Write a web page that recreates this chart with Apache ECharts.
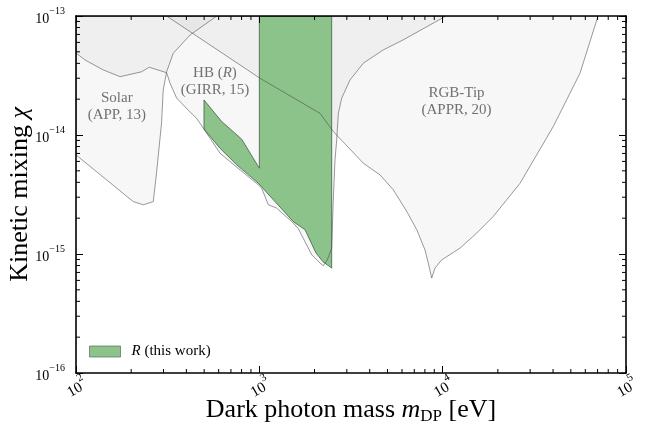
<!DOCTYPE html>
<html>
<head>
<meta charset="utf-8">
<script src="https://cdn.jsdelivr.net/npm/echarts@6/dist/echarts.min.js"></script>
<style>
  html, body { margin: 0; padding: 0; background: #fff; }
  #chart { width: 647px; height: 424px; }
</style>
</head>
<body>
<div id="chart"></div>
<script>
// ---- axis ranges and tick labels ----
const massRange = [1e2, 1e5];
const chiRange = [1e-16, 1e-13];
const massTickExponents = [2, 3, 4, 5];
const chiTickExponents = [-16, -15, -14, -13];
const minorMultipliers = [2, 3, 4, 5, 6, 7, 8, 9];

// ---- Solar (APP, 13): excluded above this boundary ----
const solarMass = [100, 205, 233, 264, 275, 293, 299, 312, 339, 419, 586, 100];
const solarChi  = [6.8e-15, 2.76e-15, 2.59e-15, 2.76e-15, 4.81e-15, 1.27e-14, 2.39e-14, 3.39e-14, 4.86e-14, 6.92e-14, 1e-13, 1e-13];

// ---- HB (R) (GIRR, 15) ----
const hbMass = [100, 100, 112, 141, 174, 228, 251, 312, 326, 354, 419, 455, 499, 610, 785, 987, 1030, 1119, 1243, 1532, 1632, 1931, 2143, 2234, 2349, 2481, 2532, 2587, 2643, 2697, 2814, 3123, 3691, 4746, 6077, 10430];
const hbChi  = [1e-13, 4.89e-14, 4.27e-14, 3.52e-14, 3.09e-14, 3.40e-14, 3.71e-14, 3.34e-14, 2.72e-14, 2.04e-14, 1.56e-14, 1.38e-14, 1.12e-14, 7.03e-15, 5.09e-15, 3.81e-15, 3.57e-15, 2.59e-15, 2.43e-15, 1.82e-15, 1.63e-15, 9.84e-16, 8.39e-16, 7.96e-16, 8.93e-16, 1.12e-15, 2.85e-15, 6.18e-15, 9.1e-15, 1.52e-14, 2.04e-14, 2.90e-14, 4.01e-14, 5.19e-14, 6.29e-14, 1e-13];

// ---- RGB-Tip (APPR, 20) ----
const rgbMass = [312, 1008, 2143, 2532, 3691, 4552, 5381, 6367, 7219, 8012, 8350, 8713, 9083, 9879, 12430, 15340, 18890, 26420, 40130, 56100, 70370];
const rgbChi  = [1e-13, 3.0e-14, 1.52e-14, 1.07e-14, 5.80e-15, 4.62e-15, 3.46e-15, 2.28e-15, 1.60e-15, 1.08e-15, 8.39e-16, 6.28e-16, 7.62e-16, 8.93e-16, 1.12e-15, 1.50e-15, 2.07e-15, 3.93e-15, 1.18e-14, 3.30e-14, 1e-13];

// ---- R (this work) ----
const rMass = [1000, 1000, 801, 623, 499, 499, 610, 753, 983, 1532, 1775, 2037, 2225, 2481, 2481];
const rChi  = [1e-13, 5.26e-15, 9.23e-15, 1.30e-14, 1.97e-14, 1.12e-14, 7.74e-15, 5.61e-15, 3.96e-15, 1.87e-15, 1.60e-15, 1.02e-15, 8.60e-16, 7.62e-16, 1e-13];

// ---- region annotations ----
const noteText = ['Solar\n(APP, 13)', 'HB ({i|R})\n(GIRR, 15)', 'RGB-Tip\n(APPR, 20)'];
const noteMass = [167, 573, 11900];
const noteChi  = [1.73e-14, 2.83e-14, 1.90e-14];

const FONT = "'Liberation Serif', 'DejaVu Serif', serif";
const GRAY_FILL = 'rgba(0,0,0,0.032)';
const GRAY_LINE = 'rgba(70,70,70,0.55)';
const GREEN = '#8bc38a';
const GREEN_EDGE = 'rgba(60,85,60,0.75)';

function polygonSeries(name, mass, chi, style, z) {
  return {
    type: 'custom', name, z, silent: true, clip: true,
    coordinateSystem: 'cartesian2d',
    itemStyle: { color: style.fill || GREEN },
    data: [[mass[0], chi[0]]],
    renderItem: (params, api) => ({
      type: 'polygon',
      shape: { points: mass.map((m, i) => api.coord([m, chi[i]])) },
      style: Object.assign({ lineWidth: 1 }, style)
    })
  };
}

// minor tick values on each axis
const minorMass = [];
for (let e = 2; e < 5; e++) minorMultipliers.forEach(k => minorMass.push(k * Math.pow(10, e)));
const minorChi = [];
for (let e = -16; e < -13; e++) minorMultipliers.forEach(k => minorChi.push(k * Math.pow(10, e)));

function expText(v) {
  const e = Math.round(Math.log10(v));
  return '{b|10}{s|' + String(e).replace('-', '\u2212') + '}';
}

function tickRich(base, sup) {
  return {
    b: { fontSize: base, lineHeight: base + 6, verticalAlign: 'bottom', fontFamily: FONT, color: '#000' },
    s: { fontSize: sup, lineHeight: sup + 2, verticalAlign: 'top', fontFamily: FONT, color: '#000' }
  };
}

function makeAxis(kind, pos, showLabels) {
  const isX = kind === 'x';
  const range = isX ? massRange : chiRange;
  const ax = {
    type: 'log', logBase: 10, position: pos,
    min: range[0], max: range[1], splitNumber: 3, z: 10,
    axisLine: { show: true, onZero: false, lineStyle: { color: '#000', width: 1.6 } },
    axisTick: { show: true, inside: true, length: 7, lineStyle: { color: '#000', width: 1 } },
    splitLine: { show: false },
    minorTick: { show: false },
    axisLabel: { show: false }
  };
  if (showLabels) {
    ax.axisLabel = {
      show: true, color: '#000', fontFamily: FONT, fontSize: 14,
      formatter: expText, rich: isX ? tickRich(15, 11) : tickRich(14, 10),
      showMinLabel: true, showMaxLabel: true
    };
    if (isX) {
      Object.assign(ax.axisLabel, { rotate: 30, margin: 13, align: 'center', verticalAlign: 'middle' });
    } else {
      ax.axisLabel.margin = 11;
    }
  }
  return ax;
}

const xMain = makeAxis('x', 'bottom', true);
xMain.name = 'Dark photon mass {i|m}{sub|DP} [eV]';
xMain.nameLocation = 'middle';
xMain.nameGap = 22;
xMain.nameMoveOverlap = false;
xMain.nameTextStyle = {
  color: '#000', fontFamily: FONT, fontSize: 26, lineHeight: 30,
  rich: {
    i: { fontStyle: 'italic', fontSize: 26, fontFamily: FONT, color: '#000' },
    sub: { fontSize: 17, lineHeight: 17, verticalAlign: 'bottom', fontFamily: FONT, color: '#000' }
  }
};
const yMain = makeAxis('y', 'left', true);
yMain.name = 'Kinetic mixing {i|\u03c7}';
yMain.nameLocation = 'middle';
yMain.nameGap = 43;
yMain.nameMoveOverlap = false;
yMain.nameTextStyle = {
  color: '#000', fontFamily: FONT, fontSize: 26,
  rich: { i: { fontStyle: 'italic', fontSize: 26, fontFamily: FONT, color: '#000' } }
};

const option = {
  backgroundColor: '#fff',
  animation: false,
  grid: { left: 76, right: 21, top: 16, bottom: 51, containLabel: false, outerBoundsMode: 'none' },
  xAxis: [xMain, makeAxis('x', 'top', false)],
  yAxis: [yMain, makeAxis('y', 'right', false)],
  legend: {
    left: 89, top: 344, orient: 'vertical', padding: 0,
    itemWidth: 31, itemHeight: 11, itemGap: 8,
    data: [{ name: 'R (this work)', icon: 'rect', itemStyle: { color: GREEN, borderColor: 'rgba(90,110,90,0.7)', borderWidth: 1 } }],
    formatter: () => '{i|R} (this work)',
    textStyle: {
      color: '#000', fontFamily: FONT, fontSize: 15, padding: [0, 0, 0, 6],
      rich: { i: { fontStyle: 'italic', fontSize: 15, fontFamily: FONT, color: '#000' } }
    }
  },
  series: [
    polygonSeries('Solar', solarMass, solarChi, { fill: GRAY_FILL, stroke: null }, 2),
    polygonSeries('HB', hbMass, hbChi, { fill: GRAY_FILL, stroke: null }, 2),
    polygonSeries('RGB-Tip', rgbMass, rgbChi, { fill: GRAY_FILL, stroke: null }, 2),
    polygonSeries('R (this work)', rMass, rChi, { fill: GREEN, stroke: GREEN_EDGE }, 3),
    // outlines of the astrophysical bounds, drawn over the filled areas
    polygonSeries('Solar edge', solarMass, solarChi, { fill: null, stroke: GRAY_LINE }, 4),
    polygonSeries('HB edge', hbMass, hbChi, { fill: null, stroke: GRAY_LINE }, 4),
    polygonSeries('RGB edge', rgbMass, rgbChi, { fill: null, stroke: GRAY_LINE }, 4),
    {
      // region names
      type: 'custom', name: 'notes', z: 6, silent: true,
      coordinateSystem: 'cartesian2d',
      data: noteMass.map((m, i) => [m, noteChi[i]]),
      renderItem: (params, api) => {
        const p = api.coord([api.value(0), api.value(1)]);
        return {
          type: 'text', x: p[0], y: p[1],
          style: {
            text: noteText[params.dataIndex], fill: '#717171',
            font: '15px ' + FONT, lineHeight: 17,
            align: 'center', verticalAlign: 'middle',
            rich: { i: { fontStyle: 'italic', fontSize: 15, fontFamily: FONT, fill: '#717171', lineHeight: 17 } }
          }
        };
      }
    },
    {
      // minor ticks on all four sides
      type: 'custom', name: 'minor ticks', z: 12, silent: true, clip: false,
      coordinateSystem: 'cartesian2d',
      data: [[massRange[0], chiRange[0]]],
      renderItem: (params, api) => {
        const kids = [];
        const st = { stroke: '#000', lineWidth: 1 };
        minorMass.forEach(m => {
          const b = api.coord([m, chiRange[0]]);
          const t = api.coord([m, chiRange[1]]);
          kids.push({ type: 'line', shape: { x1: b[0], y1: b[1], x2: b[0], y2: b[1] - 4 }, style: st });
          kids.push({ type: 'line', shape: { x1: t[0], y1: t[1], x2: t[0], y2: t[1] + 4 }, style: st });
        });
        minorChi.forEach(c => {
          const l = api.coord([massRange[0], c]);
          const r = api.coord([massRange[1], c]);
          kids.push({ type: 'line', shape: { x1: l[0], y1: l[1], x2: l[0] + 4, y2: l[1] }, style: st });
          kids.push({ type: 'line', shape: { x1: r[0], y1: r[1], x2: r[0] - 4, y2: r[1] }, style: st });
        });
        return { type: 'group', children: kids };
      }
    }
  ]
};

const chart = echarts.init(document.getElementById('chart'), null, { renderer: 'canvas' });
chart.setOption(option);
</script>
</body>
</html>
